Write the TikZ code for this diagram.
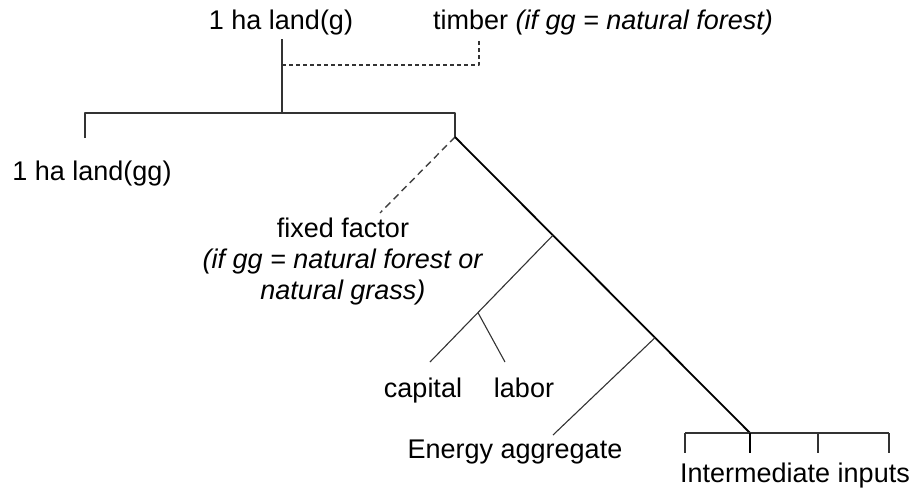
\documentclass[tikz,border=0pt]{standalone}
\usepackage{fontspec}
\setmainfont{Liberation Sans}
\usetikzlibrary{calc}
\tikzset{
  every picture/.style={
    line join=round,
    line cap=butt,
  },
  lbl/.style={font=\fontsize{27}{31}\selectfont, inner sep=0pt},
  branch/.style={line width=1.1pt, black!80},
  trunk/.style={line width=1.8pt, black},
  optional/.style={line width=1.1pt, black!80, dash pattern=on 4pt off 3pt},
  optlong/.style={line width=1.4pt, black!75, dash pattern=on 7pt off 4.5pt},
}
\begin{document}
\begin{tikzpicture}[x=1pt,y=-1pt]
\useasboundingbox (0,0) rectangle (913,491);
% labels
\node[lbl] (landg) at (281,23) {1 ha land(g)};
\node[lbl] (timber) at (603,23) {timber \textit{(if gg = natural forest)}};
\node[lbl] (landgg) at (92,174) {1 ha land(gg)};
\node[lbl, align=center] (fixed) at (343,262)
  {fixed factor\\ \textit{(if gg = natural forest or}\\ \textit{natural grass)}};
\node[lbl, anchor=base] (capital) at (423,397) {capital};
\node[lbl, anchor=base] (labor) at (524,397) {labor};
\node[lbl] (energy) at (515,452) {Energy aggregate};
\node[lbl] (inter) at (795,476) {Intermediate inputs};
% junctions
\coordinate (gtop) at (282,39);
\coordinate (gnest) at (282,113);
\coordinate (tbtop) at (479,39);
\coordinate (ggleft) at (85,113);
\coordinate (root) at (455,113);
\coordinate (rootlow) at (455,137);
\coordinate (ffend) at (380,213);
\coordinate (base) at (750,433);
\coordinate (va) at ($(rootlow)!0.332!(base)$);
\coordinate (capend) at (430,362);
\coordinate (kl) at ($(va)!0.61!(capend)$);
\coordinate (labend) at (505,362);
\coordinate (en) at ($(rootlow)!0.678!(base)$);
\coordinate (enend) at (553,435);
% top nest
\draw[branch] (gtop) -- (gnest);
\draw[optional] (gtop |- 0,65) -- (tbtop |- 0,65) -- (tbtop);
\draw[branch] (ggleft |- 0,138) -- (ggleft) -- (root) -- (rootlow);
\draw[optlong] (rootlow) -- (ffend);
% value added and energy
\draw[trunk] (rootlow) -- (base);
\draw[branch] (va) -- (capend);
\draw[branch] (kl) -- (labend);
\draw[branch] (en) -- (enend);
% intermediate inputs
\draw[branch] (685,433) -- (889,433);
\foreach \x in {685,818,889}
  \draw[branch] (\x,433) -- (\x,453);
\draw[line width=1.3pt] (base) -- (750,453);
\end{tikzpicture}
\end{document}
